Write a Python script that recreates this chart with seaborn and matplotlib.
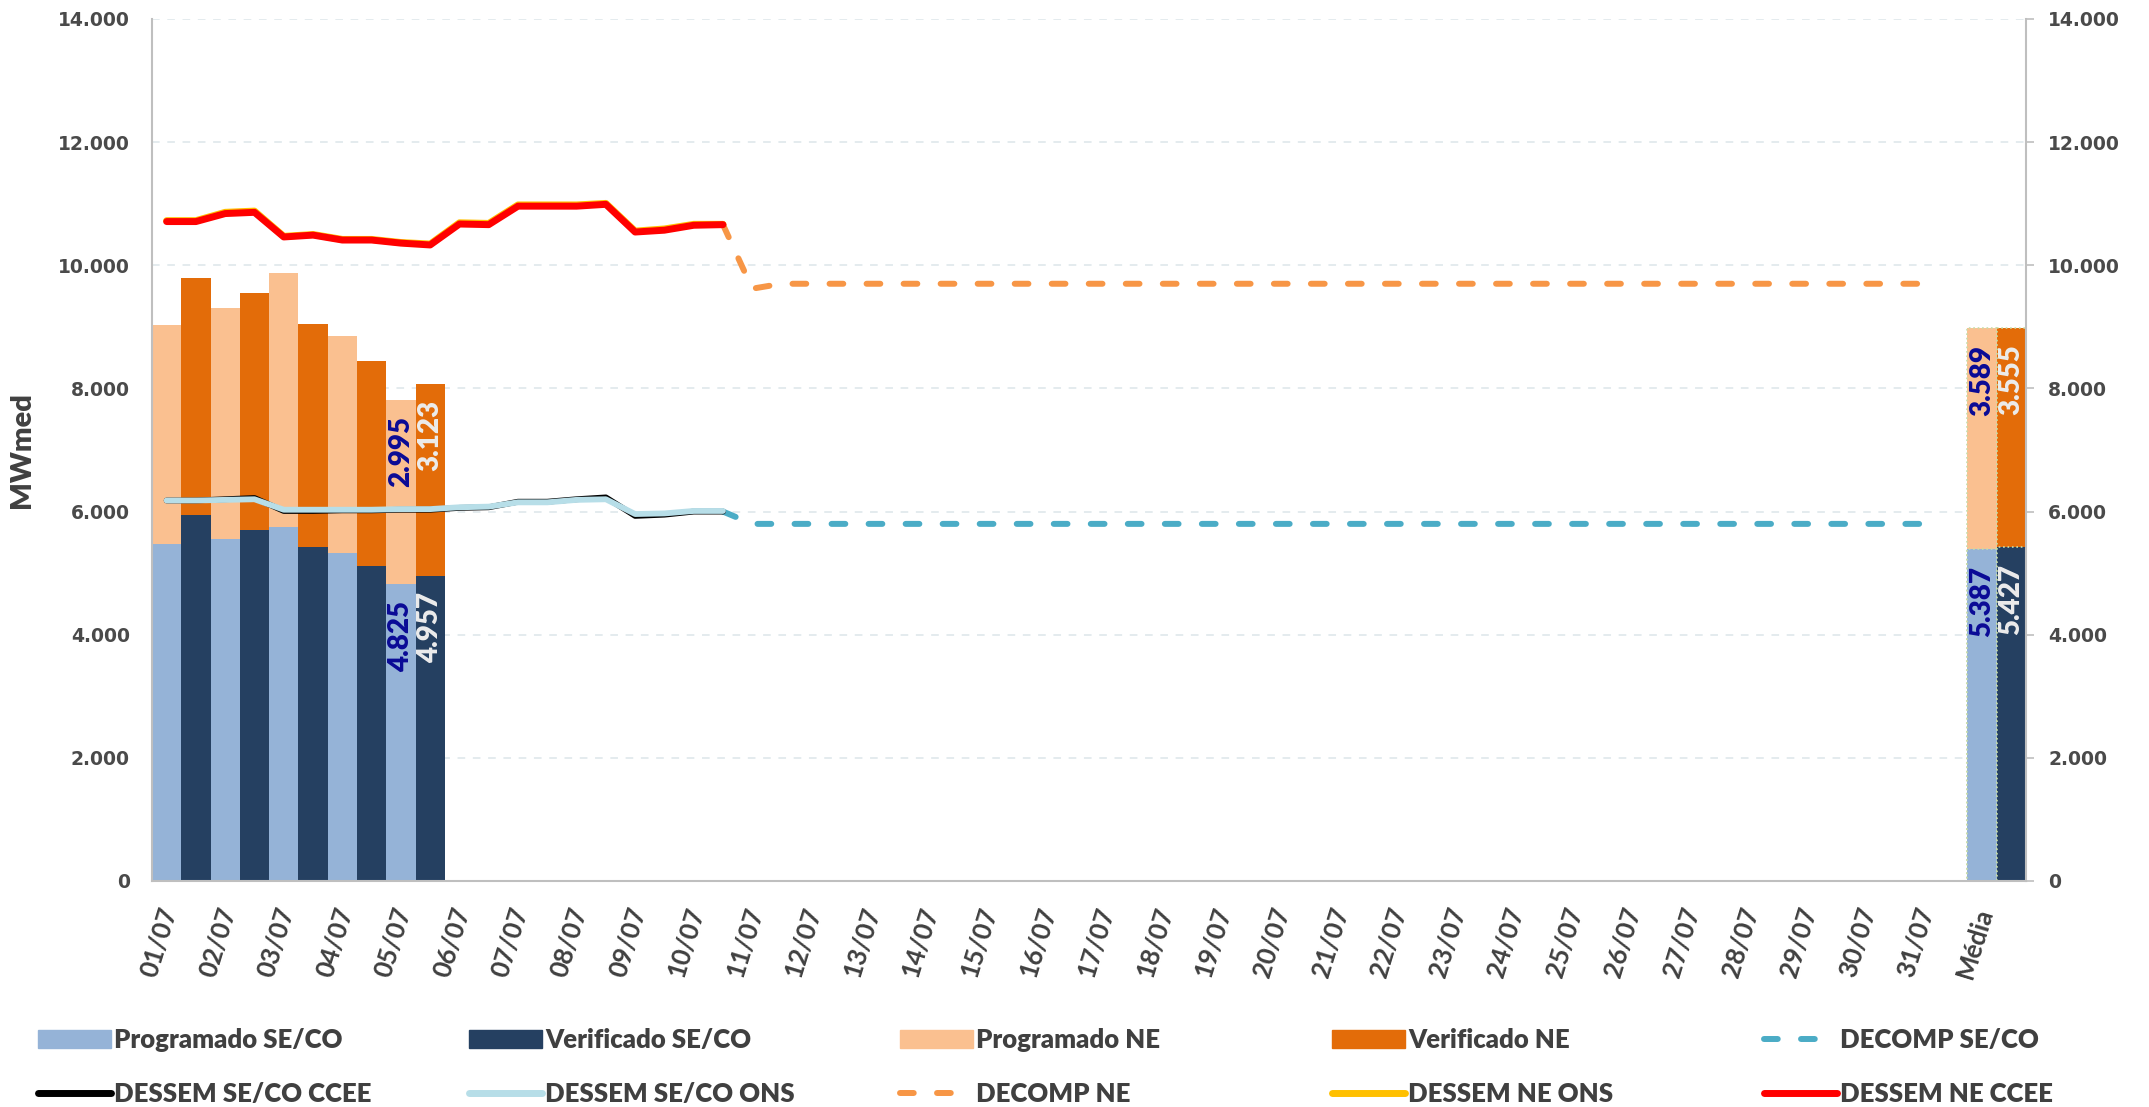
import numpy as np
import pandas as pd
import seaborn as sns
import matplotlib.pyplot as plt
from matplotlib.patches import Patch
from matplotlib.lines import Line2D
from matplotlib.ticker import FuncFormatter

# categories on the x axis
categories = [f'{d:02d}/07' for d in range(1, 32)] + ['Média']

# bars (days with data + average)
bar_cats = ['01/07', '02/07', '03/07', '04/07', '05/07', 'Média']
prog_seco = [5480, 5550, 5750, 5330, 4825, 5387]
prog_ne = [3550, 3750, 4130, 3520, 2995, 3589]
verif_seco = [5940, 5700, 5420, 5118, 4957, 5427]
verif_ne = [3850, 3850, 3620, 3332, 3123, 3555]
labelled = ['05/07', 'Média']

# lines on half-day slots (slot 0 = first half of 01/07)
dessem_ne_ccee = [10710, 10710, 10840, 10860, 10460, 10490, 10410, 10410, 10360, 10330,
                  10670, 10660, 10960, 10960, 10960, 10990, 10540, 10570, 10650, 10660]
dessem_ne_ons = [10725, 10725, 10860, 10880, 10470, 10500, 10420, 10420, 10370, 10345,
                 10690, 10680, 10980, 10980, 10980, 11005, 10555, 10590, 10665, 10665]
dessem_seco_ccee = [6180, 6180, 6200, 6220, 6010, 6010, 6020, 6020, 6030, 6030,
                    6060, 6070, 6160, 6160, 6200, 6230, 5930, 5950, 6000, 6000]
dessem_seco_ons = [6180, 6180, 6190, 6200, 6030, 6030, 6030, 6030, 6040, 6040,
                   6070, 6080, 6150, 6150, 6190, 6200, 5960, 5970, 6010, 6010]
decomp_start = 19
decomp_ne = [10660, 9620] + [9700] * 40
decomp_seco = [6000, 5800] + [5800] * 40

c_prog_seco = '#95B3D7'
c_verif_seco = '#254061'
c_prog_ne = '#FAC090'
c_verif_ne = '#E36C09'
c_decomp_seco = '#4BACC6'
c_dessem_seco_ccee = '#000000'
c_dessem_seco_ons = '#B7DEE8'
c_decomp_ne = '#F79646'
c_dessem_ne_ons = '#FFC000'
c_dessem_ne_ccee = '#FF0000'
txt = '#404040'

sns.set_style('white')
plt.rcParams['font.family'] = ['Lato', 'DejaVu Sans']


def fmt(v):
    return f'{v:,.0f}'.replace(',', '.')


df = pd.DataFrame({
    'cat': bar_cats * 2,
    'tipo': ['Programado'] * len(bar_cats) + ['Verificado'] * len(bar_cats),
    'seco': prog_seco + verif_seco,
    'ne': prog_ne + verif_ne,
})
df['total'] = df['seco'] + df['ne']

W, H = 2149, 1107
fig = plt.figure(figsize=(W / 100, H / 100), dpi=100)
ax = fig.add_axes([152 / W, 1 - 881 / H, (2026 - 152) / W, (881 - 19) / H])

hue_order = ['Programado', 'Verificado']
sns.barplot(data=df, x='cat', y='total', hue='tipo', order=categories, hue_order=hue_order,
            palette={'Programado': c_prog_ne, 'Verificado': c_verif_ne}, width=1.0,
            saturation=1, linewidth=0, legend=False, ax=ax)
sns.barplot(data=df, x='cat', y='seco', hue='tipo', order=categories, hue_order=hue_order,
            palette={'Programado': c_prog_seco, 'Verificado': c_verif_seco}, width=1.0,
            saturation=1, linewidth=0, legend=False, ax=ax)

# dotted outline on the average bars
for p in ax.patches:
    if p.get_x() > len(categories) - 1.6:
        p.set_edgecolor('#C8DCA8')
        p.set_linestyle(':')
        p.set_linewidth(1.2)

# value labels
for _, r in df[df['cat'].isin(labelled)].iterrows():
    xi = categories.index(r['cat']) + (-0.25 if r['tipo'] == 'Programado' else 0.25)
    col = '#0A0A96' if r['tipo'] == 'Programado' else '#ECECEC'
    for val, top in [(r['seco'], r['seco']), (r['ne'], r['total'])]:
        ax.annotate(fmt(val), (xi, top), xytext=(0, -12), textcoords='offset points',
                    rotation=90, ha='center', va='top', fontsize=20,
                    fontweight='heavy', color=col, zorder=5)

# lines
slot_x = np.arange(2 * len(categories)) / 2 - 0.25
n = len(dessem_ne_ccee)
x_dec = slot_x[decomp_start:decomp_start + len(decomp_ne)]

dash = (2.3, 3.9)
sns.lineplot(x=x_dec, y=decomp_seco, color=c_decomp_seco, lw=4.3, ax=ax, estimator=None, sort=False)
ax.lines[-1].set_dashes(dash)
sns.lineplot(x=x_dec, y=decomp_ne, color=c_decomp_ne, lw=4.3, ax=ax, estimator=None, sort=False)
ax.lines[-1].set_dashes(dash)
sns.lineplot(x=slot_x[:n], y=dessem_seco_ccee, color=c_dessem_seco_ccee, lw=4.2, ax=ax, estimator=None, sort=False)
sns.lineplot(x=slot_x[:n], y=dessem_seco_ons, color=c_dessem_seco_ons, lw=4.2, ax=ax, estimator=None, sort=False)
sns.lineplot(x=slot_x[:n], y=dessem_ne_ons, color=c_dessem_ne_ons, lw=5, ax=ax, estimator=None, sort=False)
sns.lineplot(x=slot_x[:n], y=dessem_ne_ccee, color=c_dessem_ne_ccee, lw=5, ax=ax, estimator=None, sort=False)
for ln in ax.lines:
    ln.set_solid_capstyle('round')
    ln.set_dash_capstyle('round')
    ln.set_solid_joinstyle('round')
    ln.set_zorder(4)

# axes styling
ax.set_xlim(-0.5, len(categories) - 0.5)
ax.set_ylim(0, 14000)
ax.set_yticks(np.arange(0, 14001, 2000))
ax.yaxis.set_major_formatter(FuncFormatter(lambda v, p: fmt(v)))
ax.set_xticks(range(len(categories)))
ax.set_xticklabels(categories, rotation=73, ha='right', fontsize=18.5,
                   fontweight='bold', color=txt)
ax.tick_params(axis='x', length=0, pad=17)
ax.tick_params(axis='y', left=False, right=True, labelleft=True, labelright=True,
               length=6, width=1.2, color='#BFBFBF', pad=10)
for t in ax.yaxis.get_major_ticks():
    for lab in (t.label1, t.label2):
        lab.set_fontfamily('DejaVu Sans')
        lab.set_fontweight('bold')
        lab.set_fontsize(13.5)
        lab.set_color('#4A4A4A')
ax.grid(axis='y', color='#DCE6EA', linestyle=(0, (5, 5)), linewidth=1.1)
ax.set_axisbelow(True)
for s in ['left', 'right', 'bottom']:
    ax.spines[s].set_color('#BFBFBF')
    ax.spines[s].set_linewidth(1.5)
ax.spines['top'].set_visible(False)
ax.set_xlabel('')
ax.set_ylabel('MWmed', fontsize=21, fontweight='heavy', color=txt)
ax.yaxis.set_label_coords(-0.0624, 0.5)


# legend: five evenly spaced columns of two entries
def dline(color):
    return Line2D([], [], color=color, lw=4.3, dashes=dash, dash_capstyle='round')


def sline(color, lw=5):
    return Line2D([], [], color=color, lw=lw, solid_capstyle='round')


columns = [
    [(Patch(color=c_prog_seco), 'Programado SE/CO'), (sline(c_dessem_seco_ccee), 'DESSEM SE/CO CCEE')],
    [(Patch(color=c_verif_seco), 'Verificado SE/CO'), (sline(c_dessem_seco_ons), 'DESSEM SE/CO ONS')],
    [(Patch(color=c_prog_ne), 'Programado NE'), (dline(c_decomp_ne), 'DECOMP NE')],
    [(Patch(color=c_verif_ne), 'Verificado NE'), (sline(c_dessem_ne_ons), 'DESSEM NE ONS')],
    [(dline(c_decomp_seco), 'DECOMP SE/CO'), (sline(c_dessem_ne_ccee), 'DESSEM NE CCEE')],
]
col_x = [38, 469, 900, 1332, 1764]
for cx, entries in zip(col_x, columns):
    leg = fig.legend(handles=[e[0] for e in entries], labels=[e[1] for e in entries],
                     loc='upper left', bbox_to_anchor=(cx / W, 1 - 1028 / H),
                     frameon=False, borderpad=0, borderaxespad=0, handlelength=2.85,
                     handleheight=0.7, handletextpad=0.12, labelspacing=1.15,
                     prop={'family': ['Lato', 'DejaVu Sans'], 'weight': 'heavy', 'size': 18.5})
    for t in leg.get_texts():
        t.set_color(txt)

fig.savefig('out.png', dpi=100)
